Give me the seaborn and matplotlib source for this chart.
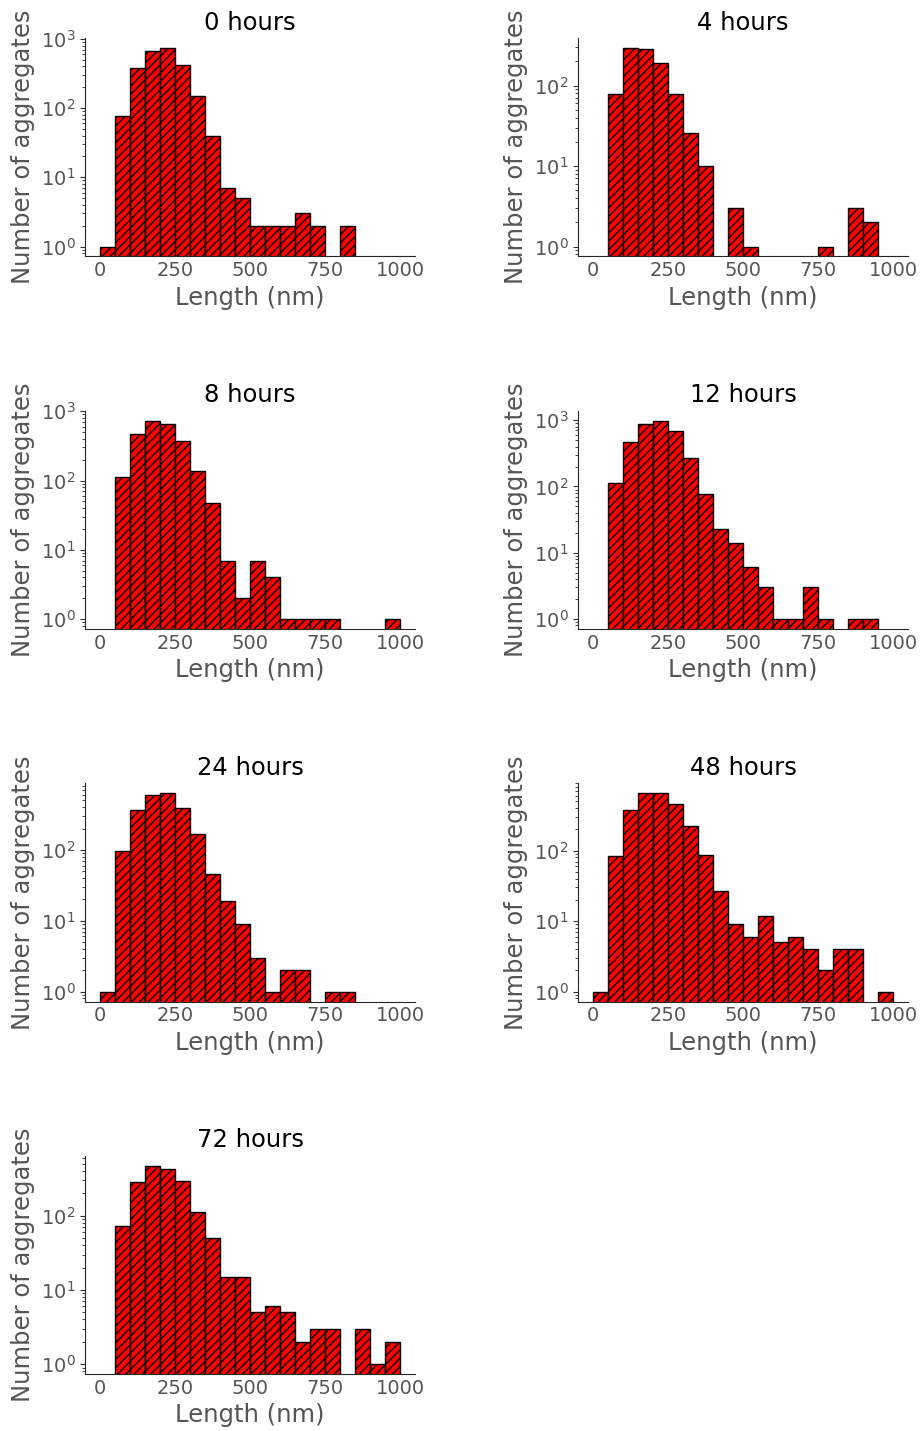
import numpy as np
import matplotlib
matplotlib.use("Agg")
import matplotlib.pyplot as plt
import seaborn as sns

# Histogram counts per 50 nm bin (0-1000 nm)
bin_edges = list(range(0, 1050, 50))
titles = ["0 hours", "4 hours", "8 hours", "12 hours", "24 hours", "48 hours", "72 hours"]

counts_0h = [1, 78, 386, 670, 740, 420, 149, 40, 7, 5, 2, 2, 2, 3, 2, 0, 2, 0, 0, 0]
counts_4h = [0, 78, 293, 285, 190, 78, 26, 10, 0, 3, 1, 0, 0, 0, 0, 1, 0, 3, 2, 0]
counts_8h = [0, 114, 465, 735, 650, 369, 136, 47, 7, 2, 7, 4, 1, 1, 1, 1, 0, 0, 0, 1]
counts_12h = [0, 112, 462, 861, 988, 676, 272, 77, 23, 14, 6, 3, 1, 1, 3, 1, 0, 1, 1, 0]
counts_24h = [1, 97, 365, 595, 636, 390, 166, 46, 19, 9, 3, 1, 2, 2, 0, 1, 1, 0, 0, 0]
counts_48h = [1, 84, 376, 655, 655, 457, 223, 88, 27, 9, 6, 12, 5, 6, 4, 2, 4, 4, 0, 1]
counts_72h = [0, 73, 287, 475, 434, 290, 113, 50, 15, 15, 5, 6, 5, 2, 3, 3, 0, 3, 1, 2]

all_counts = [counts_0h, counts_4h, counts_8h, counts_12h, counts_24h, counts_48h, counts_72h]

sns.set_style("ticks")
plt.rcParams["font.family"] = ["DejaVu Sans"]
plt.rcParams["hatch.linewidth"] = 1.0

label_gray = "#555555"

fig, axes = plt.subplots(4, 2, figsize=(9.21, 14.31), dpi=100)
fig.subplots_adjust(left=0.0923, right=0.9859, top=0.9734, bottom=0.0398,
                    wspace=0.494, hspace=0.706)
axes = axes.ravel()

centers = [(a + b) / 2 for a, b in zip(bin_edges[:-1], bin_edges[1:])]

for ax, title, counts in zip(axes, titles, all_counts):
    sns.histplot(x=centers, weights=counts, bins=bin_edges, ax=ax,
                 color="red", edgecolor="black", linewidth=1.0, alpha=1,
                 hatch="////")
    ax.set_yscale("log")
    pos = [c for c in counts if c > 0]
    lo, hi = np.log10(min(pos)), np.log10(max(pos))
    pad = (hi - lo) * 0.05
    ax.set_ylim(10 ** (lo - pad), 10 ** (hi + pad))
    ax.set_xlim(-50, 1050)
    ax.set_xticks([0, 250, 500, 750, 1000])
    ax.set_title(title, fontsize=17.5, color="black")
    ax.set_xlabel("Length (nm)", fontsize=17.5, color=label_gray)
    ax.set_ylabel("Number of aggregates", fontsize=17.5, color=label_gray)
    ax.tick_params(axis="both", labelsize=14, labelcolor=label_gray, colors="#333333")
    ax.tick_params(axis="x", length=0)
    sns.despine(ax=ax)

axes[-1].remove()

fig.savefig("out.png", dpi=100)
